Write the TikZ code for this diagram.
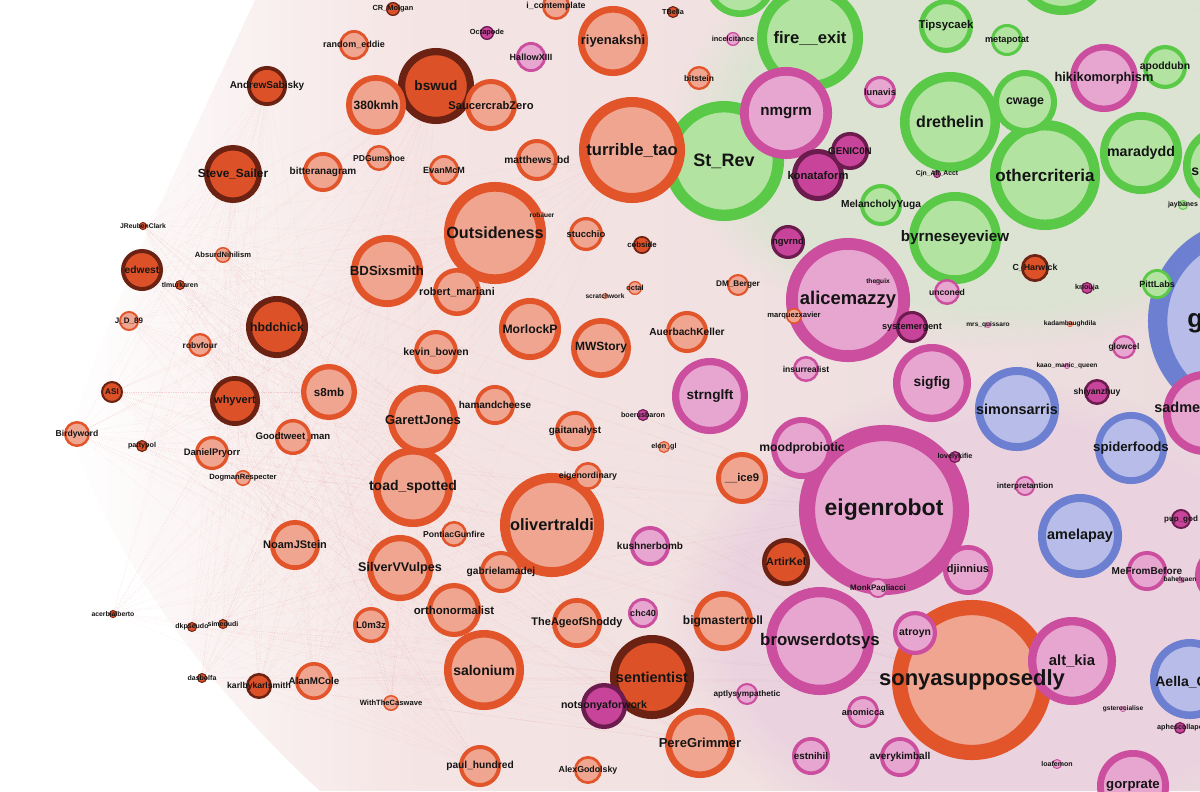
\documentclass[tikz,border=0pt]{standalone}
\usepackage{fontspec}
\setmainfont{Liberation Sans}
\usetikzlibrary{fadings}
\pgfdeclarelayer{bg}
\pgfdeclarelayer{front}
\pgfsetlayers{bg,main,front}

\definecolor{oraF}{HTML}{EFA590}
\definecolor{oraD}{HTML}{E2542A}
\definecolor{dkoF}{HTML}{DD5128}
\definecolor{dkoD}{HTML}{6B2212}
\definecolor{grnF}{HTML}{B2E3A1}
\definecolor{grnD}{HTML}{5AC948}
\definecolor{pnkF}{HTML}{E7A6D0}
\definecolor{pnkD}{HTML}{CC4E9E}
\definecolor{magF}{HTML}{C8449A}
\definecolor{magD}{HTML}{6B1B4E}
\definecolor{bluF}{HTML}{B7BDE8}
\definecolor{bluD}{HTML}{6D7FD0}
\definecolor{ink}{HTML}{141414}
\definecolor{linkc}{HTML}{D9534F}
\definecolor{fogA}{HTML}{F5E4E4}
\definecolor{fogB}{HTML}{EBDCDD}
\definecolor{fogG}{HTML}{DCE3D2}
\definecolor{fogP}{HTML}{EAD2DF}

\begin{document}
\begin{tikzpicture}[x=0.025cm,y=-0.025cm]
  \tikzset{user/.style = {shape=circle,draw,inner sep=0pt,outer sep=0pt}}
  \tikzset{ora/.style = {user,fill=oraF,draw=oraD}}
  \tikzset{dko/.style = {user,fill=dkoF,draw=dkoD}}
  \tikzset{grn/.style = {user,fill=grnF,draw=grnD}}
  \tikzset{pnk/.style = {user,fill=pnkF,draw=pnkD}}
  \tikzset{mag/.style = {user,fill=magF,draw=magD}}
  \tikzset{blu/.style = {user,fill=bluF,draw=bluD}}
  \tikzset{handle/.style = {text=ink,inner sep=0pt}}
  \tikzset{link/.style = {draw=linkc,line width=0.25pt,densely dotted,opacity=0.22}}

  \useasboundingbox (0,0) rectangle (1200,791);

  % name/x/y/radius/group/label, biggest first
  \def\users{%
    g/1250/321/102/blu/{},
    eigenrobot/884/510/85/pnk/eigenrobot,
    sonyasupposedly/972/680/80/ora/sonyasupposedly,
    alicemazzy/848/300/62/pnk/alicemazzy,
    StRev/724/161/60/grn/St\_Rev,
    othercriteria/1045/175/55/grn/othercriteria,
    browserdotsys/820/641/54/pnk/browserdotsys,
    turribletao/632/150/53/ora/turrible\_tao,
    fireexit/810/38/53/grn/fire\_\_exit,
    olivertraldi/552/525/52/ora/olivertraldi,
    Outsideness/495/233/51/ora/Outsideness,
    drethelin/950/122/50/grn/drethelin,
    topgreen/1062/-33/48/grn/{},
    byrneseyeview/955/238/46/grn/byrneseyeview,
    nmgrm/786/113/46/pnk/nmgrm,
    altkia/1072/661/44/pnk/alt\_kia,
    sadme/1205/413/42/pnk/{},
    simonsarris/1017/409/42/blu/simonsarris,
    amelapay/1080/536/42/blu/amelapay,
    sentientist/652/677/42/dko/sentientist,
    maradydd/1141/153/41/grn/maradydd,
    toadspotted/413/487/40/ora/toad\_spotted,
    salonium/484/670/40/ora/salonium,
    AellaG/1190/679/40/blu/{},
    greens/1223/166/40/grn/{},
    sigfig/932/383/39/pnk/sigfig,
    bswud/436/86/38/dko/bswud,
    strnglft/710/396/38/pnk/strnglft,
    BDSixsmith/387/271/36/ora/BDSixsmith,
    spiderfoods/1131/448/36/blu/spiderfoods,
    gorprate/1133/786/36/pnk/gorprate,
    riyenakshi/613/41/35/ora/riyenakshi,
    GarettJones/423/420/35/ora/GarettJones,
    PereGrimmer/700/743/35/ora/PereGrimmer,
    topgreenb/740/-18/35/grn/{},
    hikikomorphism/1104/78/34/pnk/hikikomorphism,
    SilverVVulpes/400/568/33/ora/SilverVVulpes,
    cwage/1025/102/32/grn/cwage,
    MorlockP/530/329/31/ora/MorlockP,
    moodprobiotic/802/448/31/pnk/moodprobiotic,
    hbdchick/277/327/31/dko/hbdchick,
    kmh/376/105/30/ora/380kmh,
    MWStory/601/348/30/ora/MWStory,
    bigmastertroll/723/621/30/ora/bigmastertroll,
    pinkedge/1225/575/30/pnk/{},
    SteveSailer/233/174/29/dko/Steve\_Sailer,
    s8mb/329/392/28/ora/s8mb,
    orthonormalist/454/610/27/ora/orthonormalist,
    Tipsycaek/946/26/27/grn/Tipsycaek,
    SaucercrabZero/491/105/26/ora/SaucercrabZero,
    iceNine/742/478/26/ora/\_\_ice9,
    konataform/818/175/26/mag/konataform,
    whyvert/235/401/25/dko/whyvert,
    TheAgeofShoddy/577/623/25/ora/TheAgeofShoddy,
    NoamJStein/295/545/25/ora/NoamJStein,
    djinnius/968/570/25/pnk/djinnius,
    robertmariani/457/292/24/ora/robert\_mariani,
    ArtirKel/786/562/24/dko/ArtirKel,
    notsonyaforwork/604/706/23/mag/notsonyaforwork,
    kevinbowen/436/352/22/ora/kevin\_bowen,
    apoddubn/1165/67/22/grn/apoddubn,
    atroyn/915/633/22/pnk/atroyn,
    matthewsbd/537/160/21/ora/matthews\_bd,
    AuerbachKeller/687/332/21/ora/AuerbachKeller,
    edwest/142/270/21/dko/edwest,
    gabrielamadej/501/572/21/ora/gabrielamadej,
    paulhundred/480/766/21/ora/paul\_hundred,
    MelancholyYuga/881/205/21/grn/MelancholyYuga,
    bitteranagram/323/172/20/ora/bitteranagram,
    hamandcheese/495/405/20/ora/hamandcheese,
    gaitanalyst/575/431/20/ora/gaitanalyst,
    AndrewSabisky/267/86/20/dko/AndrewSabisky,
    kushnerbomb/650/546/20/pnk/kushnerbomb,
    MeFromBefore/1147/571/20/pnk/MeFromBefore,
    averykimball/900/757/20/pnk/averykimball,
    GENICON/850/151/19/mag/GENIC0N,
    estnihil/811/756/19/pnk/estnihil,
    AlanMCole/314/681/19/ora/AlanMCole,
    Goodtweetman/293/437/18/ora/Goodtweet\_man,
    LOmz/371/625/18/ora/L0m3z,
    stucchio/586/234/17/ora/stucchio,
    DanielPryorr/212/453/17/ora/DanielPryorr,
    ngvrnd/788/242/17/mag/ngvrnd,
    systemergent/912/327/16/mag/systemergent,
    lunavis/880/92/16/pnk/lunavis,
    metapotat/1007/40/16/grn/metapotat,
    anomicca/863/712/16/pnk/anomicca,
    HallowXIII/531/57/15/pnk/HallowXIII,
    randomeddie/354/45/15/ora/random\_eddie,
    EvanMcM/444/170/15/ora/EvanMcM,
    chcforty/643/613/15/pnk/chc40,
    PittLabs/1157/284/15/grn/PittLabs,
    eigenordinary/588/476/14/ora/eigenordinary,
    icontemplate/556/6/14/ora/i\_contemplate,
    AlexGodolsky/588/770/14/ora/AlexGodolsky,
    CHarwick/1035/268/14/dko/C\_Harwick,
    PDGumshoe/379/158/13/ora/PDGumshoe,
    PontiacGunfire/454/534/13/ora/PontiacGunfire,
    Birdyword/77/434/13/ora/Birdyword,
    karlbykarlsmith/259/686/13/dko/karlbykarlsmith,
    unconed/947/292/13/pnk/unconed,
    insurrealist/806/369/13/pnk/insurrealist,
    shiyanzhuy/1097/392/13/mag/shiyanzhuy,
    robvfour/200/345/12/ora/robvfour,
    bitstein/699/78/12/ora/bitstein,
    glowcel/1124/347/12/pnk/glowcel,
    DMBerger/738/285/11/ora/DM\_Berger,
    ASI/112/392/11/dko/ASI,
    aptly/747/694/11/pnk/aptlysympathetic,
    JDeightynine/129/321/10/ora/J\_D\_89,
    interpretantion/1025/486/10/pnk/interpretantion,
    MonkPagliacci/878/588/10/pnk/MonkPagliacci,
    pupgod/1181/519/10/mag/pup\_god,
    cobside/642/245/9/dko/cobside,
    AbsurdNihilism/223/255/8/ora/AbsurdNihilism,
    DogmanRespecter/243/478/8/ora/DogmanRespecter,
    WithTheCaswave/391/703/8/ora/WithTheCaswave,
    marquezxavier/794/316/8/ora/marquezxavier,
    octal/635/288/7/ora/octal,
    CRMolgan/393/9/7/dko/CR\_Molgan,
    Octapode/487/33/7/mag/Octapode,
    incelcitance/733/39/7/pnk/incelcitance,
    aphescollape/1180/728/6/mag/aphescollape,
    TBella/673/12/6/dko/TBella,
    boerusbaron/643/415/6/mag/boerusbaron,
    elongl/664/447/6/ora/elon\_gl,
    pattypol/142/446/6/dko/pattypol,
    lovelykifie/955/457/6/mag/lovelykifie,
    kriouja/1087/288/6/mag/kriouja,
    tlmurkaren/180/285/5/dko/tlmurkaren,
    dasbolfa/202/678/5/dko/dasbolfa,
    dkpseudo/192/627/5/dko/dkpseudo,
    simedudi/223/624/5/dko/simedudi,
    loafemon/1057/764/5/pnk/loafemon,
    jaybanes/1183/205/5/grn/jaybanes,
    JReubenClark/143/226/4/dko/JReubenClark,
    acerbialberto/113/614/4/dko/acerbialberto,
    CjnAltAcct/937/174/4/mag/Cjn\_Alt\_Acct,
    robauer/542/215/3/ora/robauer,
    scratchwork/605/296/3/ora/scratchwork,
    thequix/878/282/3/pnk/thequix,
    mrsquissaro/988/325/3/pnk/mrs\_quissaro,
    kadambaughdila/1070/324/3/ora/kadambaughdila,
    kaaomanicqueen/1067/366/3/pnk/kaao\_manic\_queen,
    bahelgaen/1180/580/3/pnk/bahelgaen,
    gsterocialise/1123/709/3/pnk/gsterocialise%
  }

  \foreach \nm/\x/\y/\rad/\grp/\txt in \users {
    \pgfmathsetmacro{\nlw}{0.1351*\rad}
    \pgfmathsetmacro{\ndia}{0.04525*\rad}
    \node[\grp,line width=\nlw pt,minimum size=\ndia cm] (\nm) at (\x,\y) {};
  }

  \begin{pgfonlayer}{front}
    \foreach \nm/\x/\y/\rad/\grp/\txt in \users {
      \pgfmathsetmacro{\nfs}{(6+0.2*\rad)*0.7113}
      \node[handle,font=\bfseries\fontsize{\nfs}{\nfs}\selectfont] at (\nm) {\txt};
    }
    % labels cut by the right edge
    \node[handle,anchor=west,font=\bfseries\fontsize{18.5}{18.5}\selectfont] (glbl) at (1187,323) {g};
    \node[handle,anchor=west,font=\bfseries\fontsize{10.3}{10.3}\selectfont] (sadmelbl) at (1154,407) {sadme};
    \node[handle,anchor=west,font=\bfseries\fontsize{10}{10}\selectfont] (aellalbl) at (1155,682) {Aella\_G};
    \node[handle,anchor=west,font=\bfseries\fontsize{10}{10}\selectfont] (slbl) at (1191,172) {s};
  \end{pgfonlayer}

  \begin{pgfonlayer}{bg}
    \fill[white] (0,0) rectangle (1200,791);
    \begin{scope}
      \clip (255,0) .. controls (200,120) and (120,280) .. (70,430)
            .. controls (110,560) and (220,700) .. (320,791)
            -- (1200,791) -- (1200,0) -- cycle;
      \shade[left color=white,right color=fogA] (60,0) rectangle (420,791);
      \shade[left color=fogA,right color=fogB] (420,0) rectangle (1200,791);
      \fill[fogG,path fading=circle with fuzzy edge 20 percent] (1000,130) ellipse (330 and 220);
      \fill[fogP,path fading=circle with fuzzy edge 20 percent] (1000,620) ellipse (330 and 240);
    \end{scope}
    \foreach \from in {Birdyword,ASI,JDeightynine,pattypol,acerbialberto,dkpseudo,simedudi,dasbolfa,
                       karlbykarlsmith,JReubenClark,AbsurdNihilism,edwest,tlmurkaren,robvfour,
                       DanielPryorr,DogmanRespecter,WithTheCaswave,AlanMCole}
      \foreach \to in {Outsideness,turribletao,sonyasupposedly,eigenrobot,olivertraldi,salonium,
                       toadspotted,GarettJones,BDSixsmith,sentientist,bswud,hbdchick,whyvert,
                       NoamJStein,SilverVVulpes,s8mb,AndrewSabisky,SteveSailer,paulhundred,PereGrimmer}
        \draw[link] (\from) -- (\to);
  \end{pgfonlayer}
\end{tikzpicture}
\end{document}
